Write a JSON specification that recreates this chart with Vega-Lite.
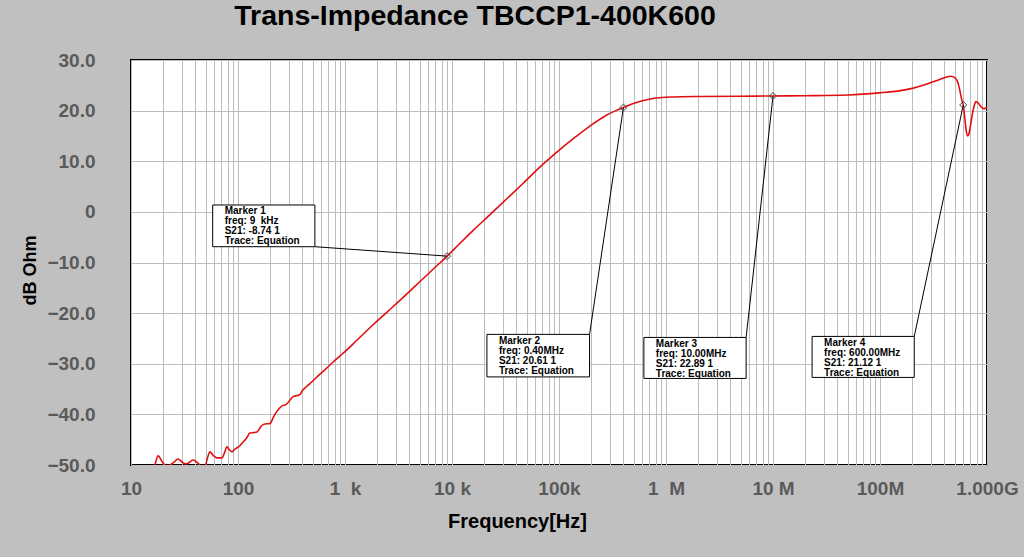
{
  "$schema": "https://vega.github.io/schema/vega-lite/v6.json",
  "width": 856,
  "height": 405,
  "autosize": {"type": "none"},
  "padding": {"left": 131, "top": 60, "right": 37, "bottom": 92},
  "background": "#c0c0c0",
  "title": {"text": "Trans-Impedance TBCCP1-400K600", "font": "Liberation Sans", "fontSize": 28.5, "fontWeight": "bold", "color": "#000000", "anchor": "middle", "dx": -84, "offset": 21},
  "config": {
    "view": {"fill": "white", "stroke": "black", "strokeWidth": 2}
  },
  "datasets": {
    "curve": [
      {"f": 15, "db": -51.5}, {"f": 16.7, "db": -50}, {"f": 17.9, "db": -48.2}, {"f": 19.9, "db": -49.6}, {"f": 22, "db": -50.2}, {"f": 25, "db": -49.5}, {"f": 27.5, "db": -48.8}, {"f": 30, "db": -49.4}, {"f": 32.7, "db": -49.8}, {"f": 35, "db": -49.5}, {"f": 37.9, "db": -49.0}, {"f": 42, "db": -49.6}, {"f": 46, "db": -50.4}, {"f": 49.1, "db": -50.3}, {"f": 52, "db": -48.5}, {"f": 54.7, "db": -47.4}, {"f": 58, "db": -48.0}, {"f": 63.6, "db": -48.6}, {"f": 70.8, "db": -48.6}, {"f": 75, "db": -47.5}, {"f": 78.8, "db": -46.4}, {"f": 83, "db": -47.0}, {"f": 87.7, "db": -47.4}, {"f": 92, "db": -47.0}, {"f": 97.7, "db": -46.6}, {"f": 103, "db": -46.3}, {"f": 109, "db": -45.7}, {"f": 120, "db": -44.7}, {"f": 129, "db": -43.7}, {"f": 139, "db": -43.6}, {"f": 150, "db": -43.5}, {"f": 165, "db": -42.3}, {"f": 178, "db": -41.9}, {"f": 199, "db": -41.8}, {"f": 215, "db": -40.5}, {"f": 229, "db": -39.5}, {"f": 255, "db": -38.4}, {"f": 284, "db": -38.0}, {"f": 305, "db": -37.2}, {"f": 328, "db": -36.5}, {"f": 378, "db": -36.1}, {"f": 400, "db": -35.3}, {"f": 437, "db": -34.5}, {"f": 500, "db": -33.4}, {"f": 560, "db": -32.4}, {"f": 671, "db": -30.9}, {"f": 760, "db": -29.8}, {"f": 894, "db": -28.5}, {"f": 1000, "db": -27.6}, {"f": 1300, "db": -25.3}, {"f": 1830, "db": -22.3}, {"f": 2500, "db": -19.7}, {"f": 3750, "db": -16.3}, {"f": 5000, "db": -13.8}, {"f": 7680, "db": -10.1}, {"f": 9000, "db": -8.74}, {"f": 12000, "db": -6.1}, {"f": 15700, "db": -3.7}, {"f": 22000, "db": -0.8}, {"f": 32200, "db": 2.5}, {"f": 45000, "db": 5.4}, {"f": 65900, "db": 8.8}, {"f": 94400, "db": 11.7}, {"f": 135000, "db": 14.4}, {"f": 193000, "db": 16.9}, {"f": 277000, "db": 19.1}, {"f": 340000, "db": 20.0}, {"f": 400000, "db": 20.61}, {"f": 480000, "db": 21.3}, {"f": 567000, "db": 21.8}, {"f": 680000, "db": 22.2}, {"f": 811000, "db": 22.5}, {"f": 1160000, "db": 22.7}, {"f": 2000000, "db": 22.8}, {"f": 5000000, "db": 22.85}, {"f": 10000000, "db": 22.89}, {"f": 20000000, "db": 22.95}, {"f": 50000000, "db": 23.1}, {"f": 98000000, "db": 23.5}, {"f": 150000000, "db": 23.9}, {"f": 200000000, "db": 24.4}, {"f": 270000000, "db": 25.2}, {"f": 334000000, "db": 25.9}, {"f": 400000000, "db": 26.5}, {"f": 460000000, "db": 26.8}, {"f": 500000000, "db": 26.5}, {"f": 531000000, "db": 25.7}, {"f": 555000000, "db": 24.2}, {"f": 583000000, "db": 22.0}, {"f": 600000000, "db": 21.12}, {"f": 620000000, "db": 18.5}, {"f": 640000000, "db": 16.0}, {"f": 658000000, "db": 15.0}, {"f": 675000000, "db": 15.3}, {"f": 700000000, "db": 17.0}, {"f": 733000000, "db": 19.5}, {"f": 760000000, "db": 21.0}, {"f": 788000000, "db": 21.8}, {"f": 820000000, "db": 21.6}, {"f": 877000000, "db": 20.8}, {"f": 930000000, "db": 20.4}, {"f": 1000000000, "db": 20.6}
    ],
    "markers": [
      {"f": 9000, "db": -8.74, "bx1": 58, "bx2": 523, "by1": 1.36, "by2": -6.88, "lx": 523, "ly": -6.88, "label": "Marker 1\nfreq: 9\u00a0\u00a0kHz\nS21: -8.74 1\nTrace: Equation"},
      {"f": 400000, "db": 20.61, "bx1": 21200, "bx2": 193000, "by1": -24.2, "by2": -32.6, "lx": 193000, "ly": -24.2, "label": "Marker 2\nfreq: 0.40MHz\nS21: 20.61 1\nTrace: Equation"},
      {"f": 10000000, "db": 22.89, "bx1": 621000, "bx2": 5610000, "by1": -24.8, "by2": -32.9, "lx": 5610000, "ly": -24.8, "label": "Marker 3\nfreq: 10.00MHz\nS21: 22.89 1\nTrace: Equation"},
      {"f": 600000000, "db": 21.12, "bx1": 23200000, "bx2": 209000000, "by1": -24.6, "by2": -32.7, "lx": 209000000, "ly": -24.6, "label": "Marker 4\nfreq: 600.00MHz\nS21: 21.12 1\nTrace: Equation"}
    ]
  },
  "layer": [
    {
      "data": {"name": "curve"},
      "mark": {"type": "line", "color": "#e01010", "strokeWidth": 1.6, "clip": true, "interpolate": "monotone"},
      "encoding": {
        "x": {
          "field": "f", "type": "quantitative",
          "scale": {"type": "log", "domain": [10, 1000000000], "nice": false},
          "axis": {
            "values": [10, 20, 30, 40, 50, 60, 70, 80, 90, 100, 200, 300, 400, 500, 600, 700, 800, 900, 1000, 2000, 3000, 4000, 5000, 6000, 7000, 8000, 9000, 10000, 20000, 30000, 40000, 50000, 60000, 70000, 80000, 90000, 100000, 200000, 300000, 400000, 500000, 600000, 700000, 800000, 900000, 1000000, 2000000, 3000000, 4000000, 5000000, 6000000, 7000000, 8000000, 9000000, 10000000, 20000000, 30000000, 40000000, 50000000, 60000000, 70000000, 80000000, 90000000, 100000000, 200000000, 300000000, 400000000, 500000000, 600000000, 700000000, 800000000, 900000000, 1000000000],
            "labelExpr": "datum.value == 10 ? '10' : datum.value == 100 ? '100' : datum.value == 1000 ? '1\u00a0\u00a0k' : datum.value == 10000 ? '10 k' : datum.value == 100000 ? '100k' : datum.value == 1000000 ? '1\u00a0\u00a0M' : datum.value == 10000000 ? '10 M' : datum.value == 100000000 ? '100M' : datum.value == 1000000000 ? '1.000G' : ''",
            "grid": true, "gridColor": "#bdbdbd", "gridWidth": 1, "gridOpacity": 1,
            "domain": false, "ticks": false,
            "labelFont": "Liberation Sans", "labelFontSize": 19, "labelFontWeight": "bold", "labelColor": "#5a5a5a",
            "labelPadding": 14, "labelOverlap": false, "labelBound": false, "labelFlush": false,
            "title": "Frequency[Hz]", "titleFont": "Liberation Sans", "titleFontSize": 20, "titleFontWeight": "bold", "titleColor": "#000000",
            "titleX": 386, "titleY": 46, "titleBaseline": "top"
          }
        },
        "y": {
          "field": "db", "type": "quantitative",
          "scale": {"domain": [-50, 30], "nice": false, "zero": false},
          "axis": {
            "values": [-50, -40, -30, -20, -10, 0, 10, 20, 30],
            "labelExpr": "datum.value == 0 ? '0' : format(datum.value, '.1f')",
            "grid": true, "gridColor": "#bdbdbd", "gridWidth": 1, "gridOpacity": 1,
            "domain": false, "ticks": false,
            "labelFont": "Liberation Sans", "labelFontSize": 19, "labelFontWeight": "bold", "labelColor": "#5a5a5a",
            "labelPadding": 36, "labelOverlap": false, "labelBound": false, "labelFlush": false,
            "title": "dB Ohm", "titleFont": "Liberation Sans", "titleFontSize": 18, "titleFontWeight": "bold", "titleColor": "#000000",
            "titleX": -101, "titleY": 210, "titleBaseline": "middle", "titleAngle": -90
          }
        }
      }
    },
    {
      "data": {"name": "markers"},
      "mark": {"type": "rule", "color": "#000000", "strokeWidth": 1},
      "encoding": {
        "x": {"field": "lx", "type": "quantitative"},
        "x2": {"field": "f"},
        "y": {"field": "ly", "type": "quantitative"},
        "y2": {"field": "db"}
      }
    },
    {
      "data": {"name": "markers"},
      "mark": {"type": "rect", "fill": "white", "stroke": "#000000", "strokeWidth": 1},
      "encoding": {
        "x": {"field": "bx1", "type": "quantitative"},
        "x2": {"field": "bx2"},
        "y": {"field": "by1", "type": "quantitative"},
        "y2": {"field": "by2"}
      }
    },
    {
      "data": {"name": "markers"},
      "mark": {"type": "text", "align": "left", "baseline": "top", "dx": 12, "dy": 1.5, "font": "Liberation Sans", "fontSize": 10, "fontWeight": "bold", "color": "#000000", "lineBreak": "\n", "lineHeight": 10},
      "encoding": {
        "x": {"field": "bx1", "type": "quantitative"},
        "y": {"field": "by1", "type": "quantitative"},
        "text": {"field": "label", "type": "nominal"}
      }
    },
    {
      "data": {"name": "markers"},
      "mark": {"type": "point", "shape": "diamond", "filled": false, "size": 50, "stroke": "#444444", "strokeWidth": 1, "opacity": 1},
      "encoding": {
        "x": {"field": "f", "type": "quantitative"},
        "y": {"field": "db", "type": "quantitative"}
      }
    }
  ]
}
